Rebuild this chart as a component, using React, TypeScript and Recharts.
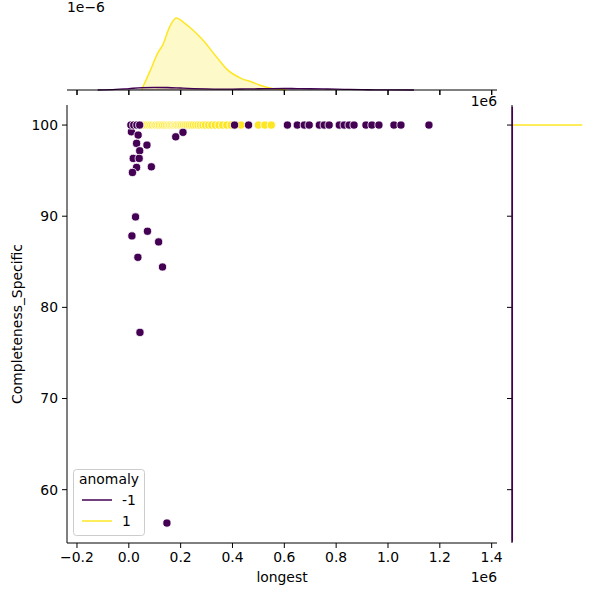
import React from "react";
import {
  ScatterChart,
  Scatter,
  ComposedChart,
  Area,
  XAxis,
  YAxis,
} from "recharts";

// anomaly = -1, off the 100 line
const anomalyX = [10000, 36000, 30000, 70000, 42000, 17000, 40000, 30000, 87000, 14000, 181000, 209000, 26000, 12000, 72000, 115000, 35000, 130000, 43000, 147000];
const anomalyY = [99.26, 98.9, 97.99, 97.8, 97.18, 96.34, 96.34, 95.35, 95.42, 94.8, 98.71, 99.2, 89.92, 87.84, 88.35, 87.18, 85.49, 84.43, 77.25, 56.34];
// anomaly = -1, sitting on 100
const anomalyFullX = [8000, 19000, 31000, 42000, 408000, 462000, 612000, 650000, 677000, 696000, 735000, 754000, 773000, 812000, 831000, 850000, 869000, 915000, 938000, 965000, 1023000, 1050000, 1158000];
// anomaly = 1, all at 100
const normalX = [55000, 62000, 70000, 78000, 85000, 92000, 100000, 105000, 112000, 118000, 125000, 131000, 138000, 145000, 152000, 158000, 164000, 170000, 176000, 181000, 186000, 192000, 198000, 204000, 211000, 218000, 225000, 233000, 241000, 249000, 258000, 267000, 276000, 286000, 296000, 308000, 320000, 334000, 348000, 362000, 378000, 395000, 432000, 500000, 525000, 550000];

// marginal kde (x), density in 1e-6
const kdeNormX = [49000, 81000, 112000, 131000, 158000, 183000, 215000, 246000, 285000, 337000, 381000, 433000, 477000, 504000, 554000, 608000];
const kdeNormD = [0, 1.02, 2.06, 2.51, 3.53, 4.0, 3.72, 3.35, 2.79, 1.86, 1.12, 0.65, 0.43, 0.28, 0.09, 0];
const kdeAnomX = [-120000, -50000, 0, 50000, 100000, 150000, 200000, 250000, 300000, 350000, 400000, 450000, 500000, 550000, 600000, 650000, 700000, 750000, 800000, 850000, 900000, 950000, 1000000, 1100000];
const kdeAnomD = [0, 0.03, 0.08, 0.13, 0.15, 0.14, 0.11, 0.08, 0.06, 0.05, 0.05, 0.06, 0.07, 0.08, 0.085, 0.08, 0.07, 0.06, 0.045, 0.03, 0.02, 0.01, 0.005, 0];

// marginal kde (y)
const kdeNormYD = [0, 1];
const kdeNormYV = [100, 100];
const kdeAnomYD = [0.004, 0.004];
const kdeAnomYV = [54.3, 102.0];

const xTicks = [-200000, 0, 200000, 400000, 600000, 800000, 1000000, 1200000, 1400000];
const yTicks = [60, 70, 80, 90, 100];

const PURPLE = "#440154";
const YELLOW = "#fde725";
const FONT = "DejaVu Sans, sans-serif";
const FS = 13.9;
const X_DOMAIN: [number, number] = [-238500, 1420600];
const Y_DOMAIN: [number, number] = [54.15, 102.2];

const fmtX = (v: number) => (v / 1e6).toFixed(1).replace("-", "\u2212");
const blank = () => "";

const anomalyPts = [
  ...anomalyX.map((x, i) => ({ x, y: anomalyY[i] })),
  ...anomalyFullX.map((x) => ({ x, y: 100 })),
];
const normalPts = normalX.map((x) => ({ x, y: 100 }));

const topRows = [
  ...kdeNormX.map((x, i) => ({ x, n: kdeNormD[i] })),
  ...kdeAnomX.map((x, i) => ({ x, a: kdeAnomD[i] })),
].sort((p, q) => p.x - q.x);

const rightNorm = kdeNormYD.map((d, i) => ({ d, v: kdeNormYV[i] }));
const rightAnom = kdeAnomYD.map((d, i) => ({ d, v: kdeAnomYV[i] }));

const dot = (color: string) => (p: any) => (
  <circle cx={p.cx} cy={p.cy} r={4.1} fill={color} stroke="#fff" strokeWidth={0.8} />
);
const noDot = () => <g />;

// tick mark only (top marginal has no tick labels)
const TickMark = (p: any) => (
  <rect x={p.x - 0.5} y={p.y - 5} width={1.1} height={5} fill="#000" />
);

const abs: React.CSSProperties = { position: "absolute", left: 0, top: 0 };
const tickLine = { stroke: "#000", strokeWidth: 1 };

export default function App() {
  return (
    <div style={{ position: "fixed", left: 0, top: 0, width: 600, height: 600, background: "#fff", fontFamily: FONT }}>
      <div style={abs}>
        <ScatterChart width={600} height={600} margin={{ top: 105, right: 103, bottom: 27, left: 17 }}>
          <XAxis
            type="number"
            dataKey="x"
            domain={X_DOMAIN}
            ticks={xTicks}
            interval={0}
            allowDataOverflow
            tickFormatter={fmtX}
            height={30}
            tickSize={5}
            tickMargin={4}
            stroke="#000"
            tickLine={tickLine}
            tick={{ fill: "#000", fontSize: FS, fontFamily: FONT }}
          />
          <YAxis
            type="number"
            dataKey="y"
            domain={Y_DOMAIN}
            ticks={yTicks}
            interval={0}
            allowDataOverflow
            width={50}
            tickSize={5}
            tickMargin={4}
            stroke="#000"
            tickLine={tickLine}
            tick={{ fill: "#000", fontSize: FS, fontFamily: FONT }}
          />
          <Scatter data={normalPts} shape={dot(YELLOW)} isAnimationActive={false} />
          <Scatter data={anomalyPts} shape={dot(PURPLE)} isAnimationActive={false} />
        </ScatterChart>
      </div>

      {/* top marginal: kde areas */}
      <div style={abs}>
        <ComposedChart width={600} height={600} data={topRows} margin={{ top: 14.5, right: 103, bottom: 510, left: 67 }}>
          <XAxis type="number" dataKey="x" domain={X_DOMAIN} allowDataOverflow hide />
          <YAxis hide domain={[0, 4.2]} />
          <Area type="monotone" dataKey="n" connectNulls stroke={YELLOW} strokeWidth={1.5} fill={YELLOW} fillOpacity={0.25} dot={false} activeDot={false} isAnimationActive={false} />
          <Area type="monotone" dataKey="a" connectNulls stroke={PURPLE} strokeWidth={1.3} fill={PURPLE} fillOpacity={0.25} dot={false} activeDot={false} isAnimationActive={false} />
        </ComposedChart>
      </div>

      {/* top marginal: bottom spine + ticks */}
      <div style={abs}>
        <ScatterChart width={600} height={600} margin={{ top: 14.5, right: 103, bottom: 480, left: 67 }}>
          <XAxis
            type="number"
            dataKey="x"
            domain={X_DOMAIN}
            ticks={xTicks}
            interval={0}
            allowDataOverflow
            tickFormatter={blank}
            height={30}
            tickSize={5}
            tickMargin={0}
            stroke="#000"
            tickLine={tickLine}
            tick={<TickMark />}
          />
          <YAxis type="number" dataKey="y" hide domain={Y_DOMAIN} />
          <Scatter data={normalPts} shape={noDot} isAnimationActive={false} />
        </ScatterChart>
      </div>

      <div style={abs}>
        <ScatterChart width={600} height={600} margin={{ top: 105, right: 12.5, bottom: 57, left: 507 }}>
          <XAxis type="number" dataKey="d" hide domain={[0, 1.075]} />
          <YAxis
            type="number"
            dataKey="v"
            domain={Y_DOMAIN}
            ticks={yTicks}
            interval={0}
            allowDataOverflow
            width={5}
            tickSize={5}
            tickFormatter={blank}
            stroke="#000"
            tickLine={tickLine}
          />
          <Scatter data={rightNorm} line={{ stroke: YELLOW, strokeWidth: 1.5 }} shape={noDot} isAnimationActive={false} />
          <Scatter data={rightAnom} line={{ stroke: PURPLE, strokeWidth: 1.5 }} shape={noDot} isAnimationActive={false} />
        </ScatterChart>
      </div>

      <svg width={600} height={600} style={{ ...abs, pointerEvents: "none" }} fontFamily={FONT} fontSize={FS}>
        <text x={67} y={12} fill="#000">1e−6</text>
        <text x={497} y={106} textAnchor="end" fill="#000">1e6</text>
        <text x={497} y={582} textAnchor="end" fill="#000">1e6</text>
        <text x={282} y={582} textAnchor="middle" fill="#000">longest</text>
        <text x={22} y={324} textAnchor="middle" fill="#000" transform="rotate(-90 22 324)">Completeness_Specific</text>
        <rect x={73.5} y={469.5} width={71} height={66} rx={3} fill="#fff" fillOpacity={0.8} stroke="#cccccc" />
        <text x={109} y={484} textAnchor="middle" fill="#000">anomaly</text>
        <line x1={82} x2={112} y1={500} y2={500} stroke={PURPLE} strokeWidth={1.5} />
        <text x={122} y={505} fill="#000">-1</text>
        <line x1={82} x2={112} y1={521} y2={521} stroke={YELLOW} strokeWidth={1.5} />
        <text x={122} y={526} fill="#000">1</text>
      </svg>
    </div>
  );
}
